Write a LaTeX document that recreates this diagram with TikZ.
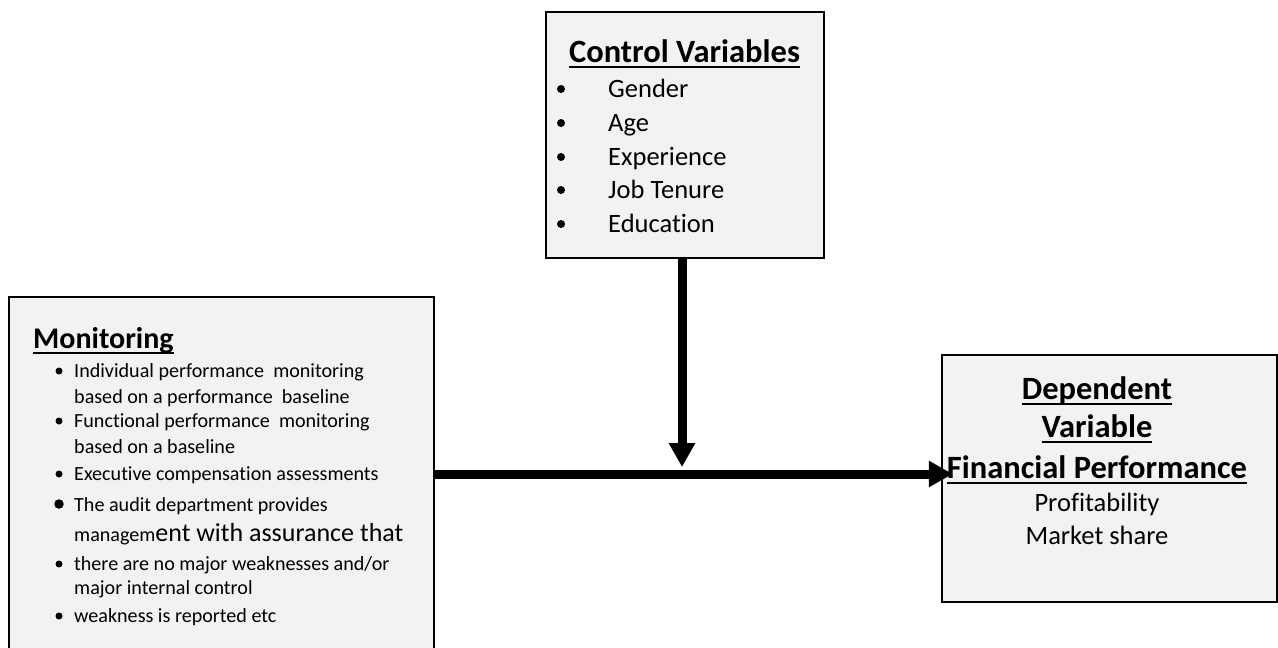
\documentclass[tikz,border=0pt]{standalone}
\usepackage{fontspec}
\setmainfont{Carlito}[Ligatures=NoCommon]
\usetikzlibrary{arrows.meta}
\definecolor{boxgray}{HTML}{F2F2F2}
\newcommand\myul[1]{\setbox0\hbox{#1}\rlap{\raisebox{-5.5pt}{\rule{\wd0}{1.8pt}}}\box0}
\tikzset{
  box/.style={draw=black, line width=2.5pt, fill=boxgray, inner sep=0pt},
  txt/.style={anchor=base west, inner sep=0pt},
  ctxt/.style={anchor=base, inner sep=0pt},
  dot/.style={circle, fill=black, inner sep=0pt, minimum size=#1},
  bigarrow/.style={line width=9pt, -{Triangle[length=24pt,width=25pt]}},
  titlefont/.style={font=\fontsize{32.5}{37}\selectfont\bfseries},
  itemfont/.style={font=\fontsize{26.5}{30}\selectfont},
  smallfont/.style={font=\fontsize{20.1}{23}\selectfont},
  montitle/.style={font=\fontsize{30}{34}\selectfont\bfseries},
}
\begin{document}
\begin{tikzpicture}[x=1pt,y=-1pt]
\useasboundingbox[fill=white] (0,0) rectangle (1278,648);
% boxes
\node[box, minimum width=278pt, minimum height=246pt] (ctrl) at (685,135) {};
\node[box, minimum width=425pt, minimum height=354pt] (mon) at (221.5,474) {};
\node[box, minimum width=335pt, minimum height=247pt] (dep) at (1109.5,478.5) {};
% control variables
\node[ctxt, titlefont] (ctitle) at (684.5,62) {\myul{Control Variables}};
\node[txt, itemfont] (c1) at (608,97) {Gender};
\node[txt, itemfont] (c2) at (608,131) {Age};
\node[txt, itemfont] (c3) at (608,165) {Experience};
\node[txt, itemfont] (c4) at (608,198) {Job Tenure};
\node[txt, itemfont] (c5) at (608,232) {Education};
\foreach \y/\n in {89/1,123/2,157/3,190/4,224/5}
  \node[dot=8pt] (cb\n) at (561,\y) {};
% monitoring
\node[txt, montitle] (mtitle) at (33,348) {\myul{Monitoring}};
\node[txt, smallfont] (m1) at (74,377) {Individual performance\ \ monitoring};
\node[txt, smallfont] (m2) at (74,403) {based on a performance\ \ baseline};
\node[txt, smallfont] (m3) at (74,427) {Functional performance\ \ monitoring};
\node[txt, smallfont] (m4) at (74,453) {based on a baseline};
\node[txt, smallfont] (m5) at (74,480) {Executive compensation assessments};
\node[txt, smallfont] (m6) at (74,511) {The audit department\ provides};
\node[txt, smallfont] (m7) at (74,541) {managem{\fontsize{26}{30}\selectfont ent with assurance that}};
\node[txt, smallfont] (m8) at (74,570) {there are no major weaknesses\ and/or};
\node[txt, smallfont] (m9) at (74,594) {major internal control};
\node[txt, smallfont] (m10) at (74,622) {weakness is reported etc};
\node[dot=7pt] (mb1) at (59,371) {};
\node[dot=7pt] (mb2) at (59,421) {};
\node[dot=7pt] (mb3) at (59,474) {};
\node[dot=9.5pt] (mb4) at (59,504) {};
\node[dot=7pt] (mb5) at (59,564) {};
\node[dot=7pt] (mb6) at (59,616) {};
% dependent
\node[ctxt, titlefont] (d1) at (1097,399) {\myul{Dependent}};
\node[ctxt, titlefont] (d2) at (1097,437) {\myul{Variable}};
\node[ctxt, titlefont] (d3) at (1097,478) {\myul{Financial Performance}};
\node[ctxt, itemfont] (d4) at (1097,511) {Profitability};
\node[ctxt, itemfont] (d5) at (1097,544) {Market share};
% connectors
\coordinate (j) at (682,467);
\draw[bigarrow] (mon.east) -- (mon.east -| dep.west) [shorten >=-12pt];
\draw[bigarrow] (j |- ctrl.south) -- (j);
\end{tikzpicture}
\end{document}
